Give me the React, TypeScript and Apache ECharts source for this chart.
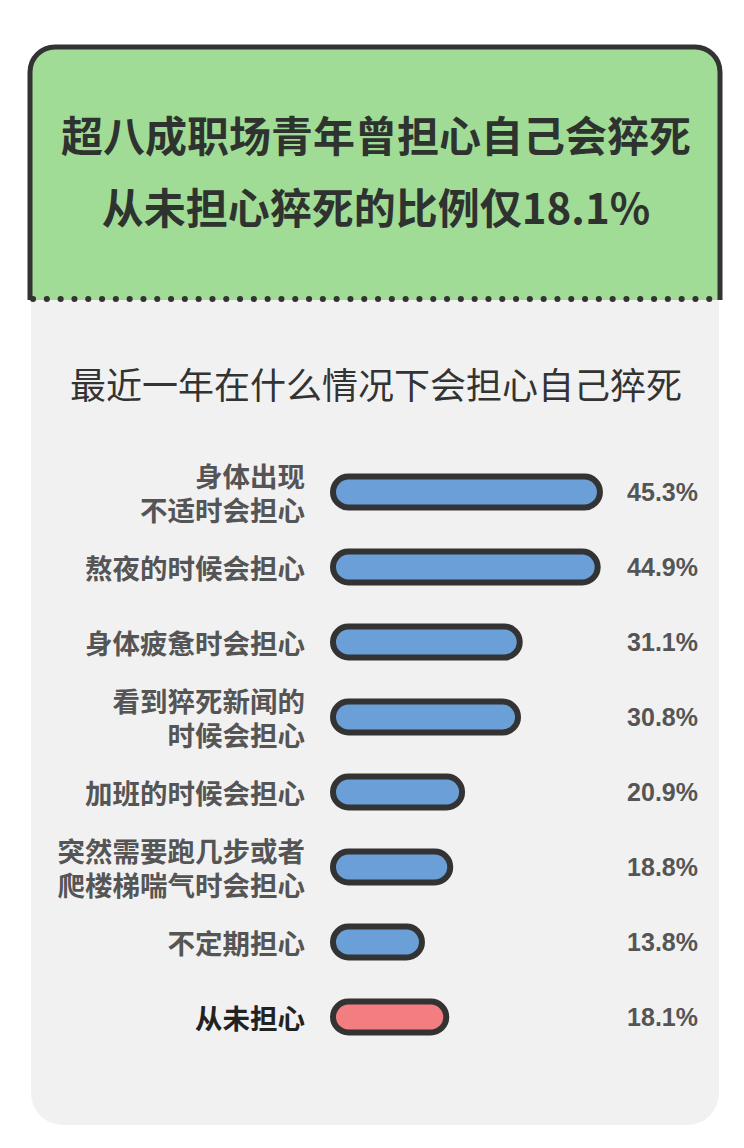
import React, { useEffect, useRef } from "react";
import * as echarts from "echarts";

const categories = [
  "身体出现\n不适时会担心",
  "熬夜的时候会担心",
  "身体疲惫时会担心",
  "看到猝死新闻的\n时候会担心",
  "加班的时候会担心",
  "突然需要跑几步或者\n爬楼梯喘气时会担心",
  "不定期担心",
  "从未担心",
];
const values = [45.3, 44.9, 31.1, 30.8, 20.9, 18.8, 13.8, 18.1];
const valueLabels = values.map((v) => v.toFixed(1) + "%");
const highlightIndex = 7;

const titleLines = ["超八成职场青年曾担心自己会猝死", "从未担心猝死的比例仅18.1%"];
const subtitle = "最近一年在什么情况下会担心自己猝死";

const CJK = '"Noto Sans CJK SC", "Noto Sans", sans-serif';

echarts.graphic.registerShape(
  "headerBorder",
  echarts.graphic.extendPath(
    "M0,253 L0,25 A25,25 0 0 1 25,0 L665,0 A25,25 0 0 1 690,25 L690,253",
    {}
  )
);

export default function App() {
  const ref = useRef<HTMLDivElement>(null);
  useEffect(() => {
    if (!ref.current) return;
    const chart = echarts.init(ref.current, undefined, { renderer: "svg" });
    const blue = "#6b9fd8";
    const red = "#f27e81";
    chart.setOption({
      animation: false,
      backgroundColor: "#ffffff",
      graphic: [
        {
          type: "rect",
          z: -10,
          shape: { x: 31, y: 290, width: 688, height: 835, r: [0, 0, 32, 32] },
          style: { fill: "#f1f1f1" },
        },
        {
          type: "rect",
          z: -9,
          shape: { x: 30, y: 47, width: 690, height: 253, r: [25, 25, 0, 0] },
          style: { fill: "#a1dc96" },
        },
        {
          type: "headerBorder",
          z: -8,
          x: 30,
          y: 47,
          style: { fill: null, stroke: "#333333", lineWidth: 5 },
        },
        {
          type: "line",
          z: -7,
          shape: { x1: 33, y1: 299, x2: 718, y2: 299 },
          style: { stroke: "#333333", lineWidth: 6, lineDash: [0.1, 13.7], lineCap: "round" },
        },
        {
          type: "text",
          x: 376,
          y: 133,
          style: {
            text: titleLines[0],
            fontSize: 42,
            fontWeight: "bold",
            fontFamily: CJK,
            fill: "#2f332f",
            textAlign: "center",
            textVerticalAlign: "middle",
          },
        },
        {
          type: "text",
          x: 376,
          y: 205,
          style: {
            text: titleLines[1],
            fontSize: 42,
            fontWeight: "bold",
            fontFamily: CJK,
            fill: "#2f332f",
            textAlign: "center",
            textVerticalAlign: "middle",
          },
        },
        {
          type: "text",
          x: 376,
          y: 383,
          style: {
            text: subtitle,
            fontSize: 36,
            fontFamily: CJK,
            fill: "#333333",
            textAlign: "center",
            textVerticalAlign: "middle",
          },
        },
      ],
      grid: { left: 333, top: 454.5, width: 339, height: 600, containLabel: false },
      xAxis: {
        type: "value",
        min: 0,
        max: 60,
        show: false,
      },
      yAxis: [
        {
          type: "category",
          inverse: true,
          data: categories,
          axisLine: { show: false },
          axisTick: { show: false },
          splitLine: { show: false },
          axisLabel: {
            margin: 28,
            fontSize: 27.5,
            fontWeight: "bold",
            fontFamily: CJK,
            lineHeight: 34,
            align: "right",
            color: (_v: any, i: number) => (i === highlightIndex ? "#222222" : "#555555"),
          },
        },
        {
          type: "category",
          inverse: true,
          position: "right",
          data: valueLabels,
          axisLine: { show: false },
          axisTick: { show: false },
          splitLine: { show: false },
          axisLabel: {
            margin: 26,
            align: "right",
            fontSize: 25,
            fontWeight: "bold",
            fontFamily: '"Liberation Sans", Arial, sans-serif',
            color: "#555555",
          },
        },
      ],
      series: [
        {
          type: "custom",
          xAxisIndex: 0,
          yAxisIndex: 0,
          encode: { x: 0, y: 1 },
          data: values.map((v, i) => [v, i]),
          renderItem: (_params: any, api: any) => {
            const v = api.value(0);
            const idx = api.value(1);
            const s = api.coord([0, idx]);
            const e = api.coord([v, idx]);
            const h = 31;
            return {
              type: "rect",
              shape: { x: s[0], y: s[1] - h / 2, width: e[0] - s[0] + 11, height: h, r: h / 2 },
              style: {
                fill: idx === highlightIndex ? red : blue,
                stroke: "#333333",
                lineWidth: 6,
              },
            };
          },
        },
      ],
    });
    return () => chart.dispose();
  }, []);
  return (
    <div
      ref={ref}
      style={{ position: "fixed", left: 0, top: 0, width: 744, height: 1148 }}
    />
  );
}
